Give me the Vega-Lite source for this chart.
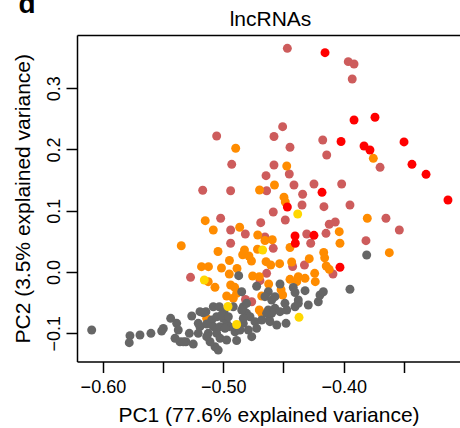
{
"$schema": "https://vega.github.io/schema/vega-lite/v6.json",
"width": 383, "height": 326.5,
"autosize": "none",
"padding": {"left": 77, "top": 35, "right": 0, "bottom": 66.5},
"background": "white",
"config": {"view": {"stroke": null}, "font": "Liberation Sans"},
"data": {"values": [
{"g":"ir","x":-0.4468,"y":0.3652},{"g":"ir","x":-0.3962,"y":0.3434},{"g":"ir","x":-0.3914,"y":0.3396},{"g":"ir","x":-0.3929,"y":0.3151},{"g":"ir","x":-0.4507,"y":0.2372},{"g":"ir","x":-0.5055,"y":0.2220},{"g":"ir","x":-0.4579,"y":0.2212},{"g":"ir","x":-0.4174,"y":0.2155},{"g":"ir","x":-0.4446,"y":0.2036},{"g":"ir","x":-0.4141,"y":0.1910},{"g":"ir","x":-0.3698,"y":0.1709},{"g":"ir","x":-0.4930,"y":0.1758},{"g":"ir","x":-0.4579,"y":0.1747},{"g":"ir","x":-0.4645,"y":0.1572},{"g":"ir","x":-0.4452,"y":0.1600},{"g":"ir","x":-0.4413,"y":0.1420},{"g":"ir","x":-0.4247,"y":0.1437},{"g":"ir","x":-0.4017,"y":0.1437},{"g":"ir","x":-0.5171,"y":0.1334},{"g":"ir","x":-0.4939,"y":0.1327},{"g":"ir","x":-0.4640,"y":0.1327},{"g":"ir","x":-0.4341,"y":0.1269},{"g":"ir","x":-0.4346,"y":0.1094},{"g":"ir","x":-0.4164,"y":0.1066},{"g":"ir","x":-0.3948,"y":0.1094},{"g":"ir","x":-0.4585,"y":0.0980},{"g":"ir","x":-0.4485,"y":0.0849},{"g":"ir","x":-0.5022,"y":0.0877},{"g":"ir","x":-0.4689,"y":0.0805},{"g":"ir","x":-0.3649,"y":0.0877},{"g":"ir","x":-0.4939,"y":0.0686},{"g":"ir","x":-0.4817,"y":0.0620},{"g":"ir","x":-0.4120,"y":0.0779},{"g":"ir","x":-0.4070,"y":0.0816},{"g":"ir","x":-0.4147,"y":0.0632},{"g":"ir","x":-0.3538,"y":0.0686},{"g":"ir","x":-0.4307,"y":0.0620},{"g":"ir","x":-0.3815,"y":0.0511},{"g":"ir","x":-0.4274,"y":0.0469},{"g":"ir","x":-0.4939,"y":0.0469},{"g":"ir","x":-0.4585,"y":0.0387},{"g":"ir","x":-0.4424,"y":0.0090},{"g":"ir","x":-0.4326,"y":0.0114},{"g":"ir","x":-0.4089,"y":-0.0033},{"g":"ir","x":-0.5272,"y":-0.0087},{"g":"ir","x":-0.4640,"y":-0.0021},{"g":"ir","x":-0.4695,"y":-0.0142},{"g":"ir","x":-0.4816,"y":-0.0449},{"g":"ir","x":-0.4764,"y":-0.0485},{"g":"ir","x":-0.4654,"y":0.0571},
{"g":"or","x":-0.4897,"y":0.2020},{"g":"or","x":-0.3754,"y":0.1856},{"g":"or","x":-0.4473,"y":0.1731},{"g":"or","x":-0.4575,"y":0.1420},{"g":"or","x":-0.4699,"y":0.1339},{"g":"or","x":-0.4496,"y":0.1221},{"g":"or","x":-0.4485,"y":0.1143},{"g":"or","x":-0.5150,"y":0.0838},{"g":"or","x":-0.3804,"y":0.0877},{"g":"or","x":-0.5083,"y":0.0686},{"g":"or","x":-0.4864,"y":0.0730},{"g":"or","x":-0.4714,"y":0.0604},{"g":"or","x":-0.4037,"y":0.0658},{"g":"or","x":-0.4654,"y":0.0514},{"g":"or","x":-0.4593,"y":0.0527},{"g":"or","x":-0.4031,"y":0.0469},{"g":"or","x":-0.5349,"y":0.0429},{"g":"or","x":-0.4716,"y":0.0371},{"g":"or","x":-0.4824,"y":0.0359},{"g":"or","x":-0.4839,"y":0.0282},{"g":"or","x":-0.5044,"y":0.0335},{"g":"or","x":-0.4446,"y":0.0400},{"g":"or","x":-0.3621,"y":0.0315},{"g":"or","x":-0.4166,"y":0.0318},{"g":"or","x":-0.4158,"y":0.0232},{"g":"or","x":-0.4286,"y":0.0217},{"g":"or","x":-0.4949,"y":0.0188},{"g":"or","x":-0.4766,"y":0.0180},{"g":"or","x":-0.4645,"y":0.0168},{"g":"or","x":-0.4606,"y":0.0114},{"g":"or","x":-0.4532,"y":0.0136},{"g":"or","x":-0.4432,"y":0.0163},{"g":"or","x":-0.4145,"y":0.0098},{"g":"or","x":-0.4120,"y":0.0044},{"g":"or","x":-0.5181,"y":0.0087},{"g":"or","x":-0.5123,"y":0.0087},{"g":"or","x":-0.5015,"y":0.0065},{"g":"or","x":-0.4886,"y":0.0057},{"g":"or","x":-0.4950,"y":-0.0033},{"g":"or","x":-0.4756,"y":-0.0065},{"g":"or","x":-0.4701,"y":-0.0077},{"g":"or","x":-0.4241,"y":-0.0021},{"g":"or","x":-0.4236,"y":-0.0158},{"g":"or","x":-0.4446,"y":-0.0119},{"g":"or","x":-0.4377,"y":-0.0077},{"g":"or","x":-0.4321,"y":-0.0103},{"g":"or","x":-0.4390,"y":-0.0158},{"g":"or","x":-0.5125,"y":-0.0158},{"g":"or","x":-0.5069,"y":-0.0250},{"g":"or","x":-0.4939,"y":-0.0212},{"g":"or","x":-0.4905,"y":-0.0250},{"g":"or","x":-0.4623,"y":-0.0196},{"g":"or","x":-0.4520,"y":-0.0290},{"g":"or","x":-0.4507,"y":-0.0376},{"g":"or","x":-0.4681,"y":-0.0392},{"g":"or","x":-0.4972,"y":-0.0392},{"g":"or","x":-0.4917,"y":-0.0429},{"g":"or","x":-0.4701,"y":-0.0620},{"g":"or","x":-0.4681,"y":-0.0674},{"g":"or","x":-0.5138,"y":-0.0756},{"g":"or","x":-0.4889,"y":-0.0348},{"g":"or","x":-0.4787,"y":0.0261},
{"g":"gr","x":-0.6093,"y":-0.0947},{"g":"gr","x":-0.5775,"y":-0.1040},{"g":"gr","x":-0.5781,"y":-0.1154},{"g":"gr","x":-0.5692,"y":-0.1029},{"g":"gr","x":-0.5601,"y":-0.1001},{"g":"gr","x":-0.5512,"y":-0.0963},{"g":"gr","x":-0.5498,"y":-0.0922},{"g":"gr","x":-0.5437,"y":-0.0756},{"g":"gr","x":-0.5387,"y":-0.0838},{"g":"gr","x":-0.5374,"y":-0.0947},{"g":"gr","x":-0.5401,"y":-0.1082},{"g":"gr","x":-0.5360,"y":-0.1138},{"g":"gr","x":-0.5310,"y":-0.1138},{"g":"gr","x":-0.5249,"y":-0.1176},{"g":"gr","x":-0.5282,"y":-0.1001},{"g":"gr","x":-0.5262,"y":-0.0718},{"g":"gr","x":-0.5194,"y":-0.0893},{"g":"gr","x":-0.5125,"y":-0.1001},{"g":"gr","x":-0.5144,"y":-0.0648},{"g":"gr","x":-0.5083,"y":-0.0567},{"g":"gr","x":-0.5096,"y":-0.0784},{"g":"gr","x":-0.5069,"y":-0.1220},{"g":"gr","x":-0.5042,"y":-0.1274},{"g":"gr","x":-0.5055,"y":-0.1001},{"g":"gr","x":-0.5138,"y":-0.1056},{"g":"gr","x":-0.5110,"y":-0.1138},{"g":"gr","x":-0.5166,"y":-0.0665},{"g":"gr","x":-0.5033,"y":-0.0567},{"g":"gr","x":-0.4994,"y":-0.0648},{"g":"gr","x":-0.5055,"y":-0.0730},{"g":"gr","x":-0.5000,"y":-0.0756},{"g":"gr","x":-0.5083,"y":-0.0893},{"g":"gr","x":-0.5027,"y":-0.0893},{"g":"gr","x":-0.4972,"y":-0.0838},{"g":"gr","x":-0.5027,"y":-0.1082},{"g":"gr","x":-0.4903,"y":-0.0975},{"g":"gr","x":-0.4889,"y":-0.1118},{"g":"gr","x":-0.4950,"y":-0.0893},{"g":"gr","x":-0.4834,"y":-0.0567},{"g":"gr","x":-0.4806,"y":-0.0674},{"g":"gr","x":-0.4834,"y":-0.0838},{"g":"gr","x":-0.4778,"y":-0.0730},{"g":"gr","x":-0.4737,"y":-0.0811},{"g":"gr","x":-0.4723,"y":-0.0919},{"g":"gr","x":-0.4792,"y":-0.0947},{"g":"gr","x":-0.4764,"y":-0.1056},{"g":"gr","x":-0.4861,"y":-0.0947},{"g":"gr","x":-0.4806,"y":-0.0511},{"g":"gr","x":-0.4872,"y":-0.0060},{"g":"gr","x":-0.4847,"y":-0.0322},{"g":"gr","x":-0.4723,"y":-0.0233},{"g":"gr","x":-0.4626,"y":-0.0322},{"g":"gr","x":-0.4654,"y":-0.0403},{"g":"gr","x":-0.4598,"y":-0.0457},{"g":"gr","x":-0.4571,"y":-0.0403},{"g":"gr","x":-0.4529,"y":-0.0196},{"g":"gr","x":-0.4419,"y":-0.0253},{"g":"gr","x":-0.4404,"y":-0.0335},{"g":"gr","x":-0.4321,"y":-0.0305},{"g":"gr","x":-0.4377,"y":-0.0457},{"g":"gr","x":-0.4488,"y":-0.0511},{"g":"gr","x":-0.4571,"y":-0.0593},{"g":"gr","x":-0.4626,"y":-0.0620},{"g":"gr","x":-0.4598,"y":-0.0674},{"g":"gr","x":-0.4529,"y":-0.0648},{"g":"gr","x":-0.4473,"y":-0.0620},{"g":"gr","x":-0.4404,"y":-0.0567},{"g":"gr","x":-0.4377,"y":-0.0511},{"g":"gr","x":-0.4294,"y":-0.0539},{"g":"gr","x":-0.4211,"y":-0.0485},{"g":"gr","x":-0.4197,"y":-0.0376},{"g":"gr","x":-0.4169,"y":-0.0322},{"g":"gr","x":-0.4618,"y":-0.0784},{"g":"gr","x":-0.4556,"y":-0.0865},{"g":"gr","x":-0.4479,"y":-0.0838},{"g":"gr","x":-0.3948,"y":-0.0282},{"g":"gr","x":-0.3809,"y":0.0278},{"g":"gr","x":-0.5332,"y":-0.1138},{"g":"gr","x":-0.5138,"y":-0.0849},
{"g":"gr","x":-0.5194,"y":-0.0648},{"g":"gr","x":-0.5208,"y":-0.0838},{"g":"gr","x":-0.5208,"y":-0.1001},{"g":"gr","x":-0.5013,"y":-0.0702},{"g":"gr","x":-0.4958,"y":-0.0730},{"g":"gr","x":-0.4986,"y":-0.0919},{"g":"gr","x":-0.4972,"y":-0.1110},{"g":"gr","x":-0.4834,"y":-0.0756},{"g":"gr","x":-0.4847,"y":-0.0620},{"g":"gr","x":-0.4917,"y":-0.0567},{"g":"gr","x":-0.4681,"y":-0.0784},{"g":"gr","x":-0.4612,"y":-0.0811},{"g":"gr","x":-0.4640,"y":-0.0674},
{"g":"go","x":-0.4382,"y":0.0947},{"g":"go","x":-0.4673,"y":0.0359},{"g":"go","x":-0.5158,"y":-0.0131},{"g":"go","x":-0.4961,"y":-0.0563},{"g":"go","x":-0.4889,"y":-0.0857},{"g":"go","x":-0.4371,"y":-0.0740},
{"g":"re","x":-0.4155,"y":0.3580},{"g":"re","x":-0.3914,"y":0.2482},{"g":"re","x":-0.3740,"y":0.2526},{"g":"re","x":-0.4022,"y":0.2131},{"g":"re","x":-0.3499,"y":0.2123},{"g":"re","x":-0.3831,"y":0.2057},{"g":"re","x":-0.3782,"y":0.1992},{"g":"re","x":-0.3433,"y":0.1758},{"g":"re","x":-0.3316,"y":0.1595},{"g":"re","x":-0.3134,"y":0.1176},{"g":"re","x":-0.4180,"y":0.1301},{"g":"re","x":-0.4468,"y":0.1061},{"g":"re","x":-0.4404,"y":0.0588},{"g":"re","x":-0.4247,"y":0.0599},{"g":"re","x":-0.4402,"y":0.0469},{"g":"re","x":-0.4031,"y":0.0077}
]},
"layer": [
{"mark": {"type": "point", "filled": true, "size": 80, "opacity": 1},
 "encoding": {
  "x": {"field": "x", "type": "quantitative", "scale": {"domain": [-0.6215, -0.3034], "nice": false, "zero": false},
        "axis": {"orient": "bottom", "values": [-0.6, -0.55, -0.5, -0.45, -0.4, -0.35], "format": ".2f", "labelExpr": "datum.value == -0.6 || datum.value == -0.5 || datum.value == -0.4 ? datum.label : ''",
                 "grid": false, "domainColor": "black", "domainWidth": 1.5, "tickColor": "black", "tickWidth": 1.5, "tickSize": 11,
                 "labelFontSize": 18, "labelColor": "black", "labelPadding": 6, "labelFont": "Liberation Sans",
                 "title": "PC1 (77.6% explained variance)", "titleFontSize": 21, "titleFontWeight": "normal", "titleColor": "black", "titlePadding": 8, "titleFont": "Liberation Sans"}},
  "y": {"field": "y", "type": "quantitative", "scale": {"domain": [-0.1461, 0.3869], "nice": false, "zero": false},
        "axis": {"orient": "left", "values": [-0.1, 0, 0.1, 0.2, 0.3], "format": ".1f", "labelAngle": -90, "labelAlign": "center", "labelBaseline": "bottom",
                 "grid": false, "domainColor": "black", "domainWidth": 1.5, "tickColor": "black", "tickWidth": 1.5, "tickSize": 11,
                 "labelFontSize": 18, "labelColor": "black", "labelPadding": 3, "labelFont": "Liberation Sans",
                 "title": "PC2 (3.5% explained variance)", "titleFontSize": 21, "titleFontWeight": "normal", "titleColor": "black", "titlePadding": 12, "titleFont": "Liberation Sans"}},
  "color": {"field": "g", "type": "nominal", "scale": {"domain": ["ir", "or", "gr", "go", "re"], "range": ["#CD5C5C", "#FF8C00", "#666666", "#FFD700", "#FF0000"]}, "legend": null}
 }},
{"mark": {"type": "point", "filled": true, "size": 0, "opacity": 0},
 "encoding": {
  "x": {"field": "x", "type": "quantitative",
        "axis": {"orient": "top", "ticks": false, "labels": false, "grid": false, "domainColor": "black", "domainWidth": 1.5,
                 "title": "lncRNAs", "titleFontSize": 21, "titleFontWeight": "normal", "titleColor": "black", "titleFont": "Liberation Sans",
                 "titleX": 193, "titleY": -9.3, "titleAlign": "center", "titleBaseline": "alphabetic", "titleAnchor": "middle"}},
  "y": {"field": "y", "type": "quantitative",
        "axis": {"orient": "right", "ticks": false, "labels": false, "grid": false, "domain": false,
                 "title": "d", "titleFontSize": 28, "titleFontWeight": "bold", "titleColor": "black", "titleFont": "Liberation Sans",
                 "titleAngle": 0, "titleX": -442, "titleY": -23, "titleAlign": "left", "titleBaseline": "alphabetic", "titleAnchor": "start"}}
 }}
],
"resolve": {"axis": {"x": "independent", "y": "independent"}}
}
